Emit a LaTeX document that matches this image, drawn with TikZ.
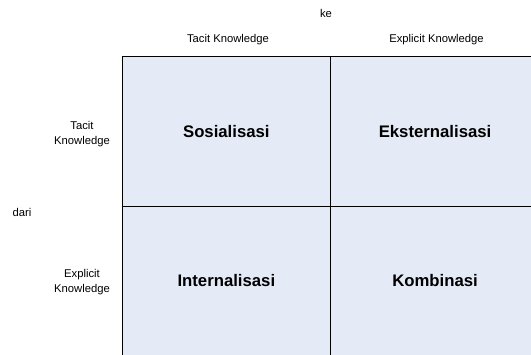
\documentclass[tikz,border=0pt]{standalone}
\usepackage{fontspec}
\setmainfont{Liberation Sans}
\usetikzlibrary{positioning}
\definecolor{cellblue}{HTML}{E5EBF6}

\begin{document}
\begin{tikzpicture}
  [
      x=1bp, y=-1bp,
      cell/.style={rectangle, fill=cellblue, minimum width=208.7bp, minimum height=149.7bp, inner sep=0pt, outer sep=0pt, font=\fontsize{16.8}{20}\selectfont\bfseries},
      head/.style={font=\fontsize{11.3}{14.5}\selectfont, align=center, inner sep=0pt},
      grid line/.style={draw=black, line width=1pt},
    ]
  \useasboundingbox (0,0) rectangle (531,354);
  \clip (0,0) rectangle (531,354);

    \node (sos) [cell] at (226.35,131.15) {Sosialisasi};
    \node (eks) [cell, right=0pt of sos] {Eksternalisasi};
    \node (int) [cell, below=0pt of sos] {Internalisasi};
    \node (kom) [cell, right=0pt of int] {Kombinasi};

      \draw [grid line] (sos.north west) -- (eks.north east);
      \draw [grid line] (sos.north west) -- (int.south west);
      \draw [grid line] (sos.north east) -- (kom.south west);
      \draw [grid line] (sos.south west) -- (eks.south east);

    \node (ke) [head] at (326,13.5) {ke};
    \node (colTacit) [head] at (228,40) {Tacit Knowledge};
    \node (colExplicit) [head] at (436.5,40) {Explicit Knowledge};
    \node (rowTacit) [head] at (82,134) {Tacit\\Knowledge};
    \node (dari) [head] at (22,212) {dari};
    \node (rowExplicit) [head] at (82,282) {Explicit\\Knowledge};

  \end{tikzpicture}
\end{document}
